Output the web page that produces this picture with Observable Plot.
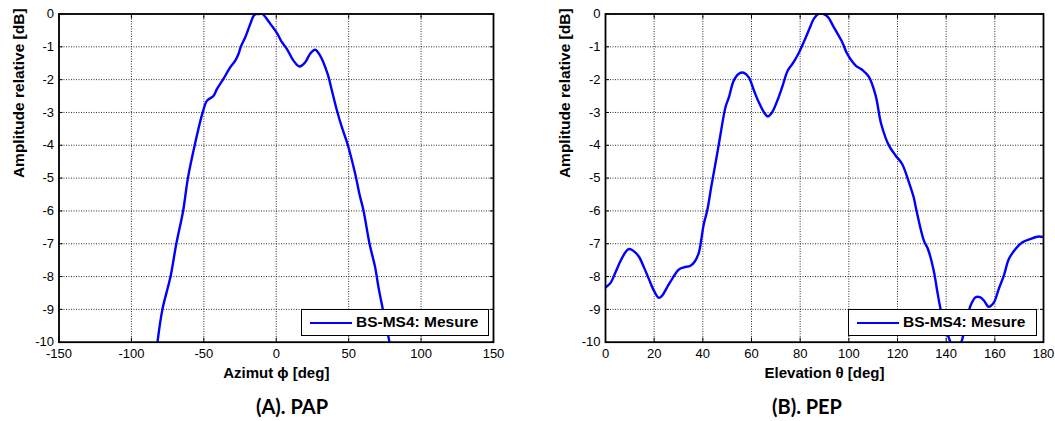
<!DOCTYPE html>
<html>
<head>
<meta charset="utf-8">
<script src="https://cdn.jsdelivr.net/npm/d3@7"></script>
<script src="https://cdn.jsdelivr.net/npm/@observablehq/plot@0.6"></script>
<style>
  body { margin: 0; background: #fff; }
  #wrap { position: relative; width: 1055px; height: 421px; background: #fff; overflow: hidden; }
  .panel { position: absolute; top: 0; }
  .legend { position: absolute; box-sizing: border-box; height: 27px; border: 1.5px solid #000; background: #fff;
            font-family: "Liberation Sans", Arial, sans-serif; font-weight: bold; font-size: 15.5px; }
  .legend .ln { position: absolute; top: 11.5px; height: 2.5px; width: 42px; background: #0000ff; }
  .legend .tx { position: absolute; top: 3px; line-height: 18px; white-space: nowrap; color: #000; }
  .caption { position: absolute; transform: translateX(-50%); font-family: Lato, "Open Sans", sans-serif; font-weight: bold;
             font-size: 20px; line-height: 24px; white-space: nowrap; color: #000; }
</style>
</head>
<body>
<div id="wrap"></div>
<script>
// ---- Data ----
const azimuthDeg = [-82, -78.6, -73, -69, -64.3, -61, -56.3, -50.8, -47.8, -43.4, -40.9, -36.8, -31.7, -28.3, -26, -24.5, -21.4, -17.9, -15.6, -14, -12, -9.6, -7, -4.1, 0.5, 3.9, 7.3, 11.9, 16, 20, 23.4, 26.9, 30.3, 35.4, 38.4, 41.9, 45.3, 49.2, 54.5, 57.5, 60.3, 64.4, 68.3, 70.6, 73.6, 78.2];
const azimuthDb = [-10, -9, -8, -7, -6, -5, -4, -3, -2.64, -2.5, -2.28, -2, -1.62, -1.42, -1.21, -1.0, -0.71, -0.3, -0.05, 0, 0, 0, -0.12, -0.3, -0.58, -0.86, -1.06, -1.42, -1.6, -1.47, -1.21, -1.09, -1.27, -1.82, -2.33, -2.94, -3.45, -3.96, -4.87, -5.5, -6.0, -7.0, -7.72, -8.33, -9.0, -10];

const elevationDeg = [0, 2, 4.1, 6.2, 8.2, 9.6, 11.4, 13.7, 15.8, 17.8, 19.9, 21.9, 23.3, 25.3, 27.4, 30.1, 32.2, 34.9, 36.7, 38.4, 39.3, 40.4, 41.8, 43.5, 45.9, 47.3, 49.3, 50.7, 52.7, 54.8, 56.8, 58.9, 61, 63, 65.1, 66.7, 68.5, 70.6, 72.6, 74.9, 77, 79, 81.8, 83.8, 85.6, 87.5, 89.7, 91.5, 93.8, 97.3, 99.3, 102.8, 105.5, 108.2, 111, 113.3, 116.5, 119.2, 121.9, 124.7, 126.7, 127.8, 130.8, 132.5, 134.9, 136.3, 137.7, 139.7, 141.5, 143.8, 146.2, 148, 150, 152.1, 153.8, 155.5, 157.5, 159.6, 161.6, 163.7, 165.8, 168.5, 171.2, 174.7, 178.1, 180];
const elevationDb = [-8.33, -8.2, -7.87, -7.52, -7.26, -7.16, -7.21, -7.39, -7.72, -8.07, -8.43, -8.65, -8.58, -8.33, -8.07, -7.79, -7.72, -7.67, -7.54, -7.26, -6.9, -6.4, -5.99, -5.25, -4.26, -3.65, -2.84, -2.54, -2.03, -1.82, -1.79, -1.93, -2.33, -2.69, -2.99, -3.12, -2.99, -2.64, -2.23, -1.72, -1.5, -1.25, -0.8, -0.45, -0.15, 0, 0, -0.1, -0.4, -0.86, -1.21, -1.57, -1.70, -1.91, -2.48, -3.35, -4.01, -4.31, -4.57, -5.13, -5.6, -5.99, -6.9, -7.16, -7.82, -8.43, -8.99, -9.55, -9.95, -10.3, -10, -9.45, -8.89, -8.63, -8.63, -8.73, -8.92, -8.79, -8.38, -7.97, -7.46, -7.16, -6.96, -6.85, -6.78, -6.8];

const azimuthTicks = [-150, -100, -50, 0, 50, 100, 150];
const elevationTicks = [0, 20, 40, 60, 80, 100, 120, 140, 160, 180];
const dbTicks = [0, -1, -2, -3, -4, -5, -6, -7, -8, -9, -10];

const seriesName = "BS-MS4: Mesure";
const yTitle = "Amplitude relative [dB]";
const panels = [
  {deg: azimuthDeg, db: azimuthDb, ticks: azimuthTicks, domain: [-150, 150], xTitle: "Azimut ϕ [deg]", caption: "(A). PAP",
   left: 0, width: 527, marginLeft: 58.5, marginRight: 34, legendLeft: 301, legendWidth: 188, captionX: 292},
  {deg: elevationDeg, db: elevationDb, ticks: elevationTicks, domain: [0, 180], xTitle: "Elevation θ [deg]", caption: "(B). PEP",
   left: 527, width: 528, marginLeft: 78, marginRight: 12, legendLeft: 848, legendWidth: 189, captionX: 807}
];

const wrap = document.getElementById("wrap");
const gridStyle = {stroke: "#222", strokeOpacity: 0.95, strokeDasharray: "1,1.5", strokeWidth: 1};
const blank = () => "";

for (const p of panels) {
  const rows = p.deg.map((d, i) => ({x: d, y: p.db[i]}));
  const chart = Plot.plot({
    width: p.width,
    height: 385,
    marginLeft: p.marginLeft,
    marginRight: p.marginRight,
    marginTop: 13.5,
    marginBottom: 43.3,
    style: {fontFamily: "'Liberation Sans', Arial, sans-serif", fontSize: "13px", color: "#000", background: "transparent", overflow: "visible"},
    x: {domain: p.domain},
    y: {domain: [-10, 0]},
    marks: [
      Plot.gridX(p.ticks, gridStyle),
      Plot.gridY(dbTicks, gridStyle),
      Plot.axisX(p.ticks, {anchor: "bottom", tickSize: 0, tickPadding: 7, tickFormat: d => String(d), label: null, fontSize: 13}),
      Plot.axisY(dbTicks, {anchor: "left", tickSize: 0, tickPadding: 5, tickFormat: d => String(d), label: null, fontSize: 13}),
      Plot.axisX(p.ticks, {anchor: "bottom", tickSize: -4, tickFormat: blank, label: null}),
      Plot.axisX(p.ticks, {anchor: "top", tickSize: -4, tickFormat: blank, label: null}),
      Plot.axisY(dbTicks, {anchor: "left", tickSize: -4, tickFormat: blank, label: null}),
      Plot.axisY(dbTicks, {anchor: "right", tickSize: -4, tickFormat: blank, label: null}),
      Plot.line(rows, {x: "x", y: "y", stroke: "#0000ff", strokeWidth: 2.4, curve: "catmull-rom", clip: true}),
      Plot.frame({stroke: "#000", strokeWidth: 1.8}),
      Plot.text([p.xTitle], {frameAnchor: "bottom", dy: 31, fontWeight: "bold", fontSize: 15, lineAnchor: "middle"}),
      Plot.text([yTitle], {frameAnchor: "left", dx: -40, rotate: -90, fontWeight: "bold", fontSize: 15.5, lineAnchor: "middle"})
    ]
  });
  chart.classList.add("panel");
  chart.style.left = p.left + "px";
  wrap.appendChild(chart);

  const lg = document.createElement("div");
  lg.className = "legend";
  lg.style.left = p.legendLeft + "px";
  lg.style.top = "309px";
  lg.style.width = p.legendWidth + "px";
  lg.innerHTML = `<div class="ln" style="left:8px"></div><div class="tx" style="left:54px"></div>`;
  lg.querySelector(".tx").textContent = seriesName;
  wrap.appendChild(lg);

  const cap = document.createElement("div");
  cap.className = "caption";
  cap.style.left = p.captionX + "px";
  cap.style.top = "394px";
  cap.textContent = p.caption;
  wrap.appendChild(cap);
}
</script>
</body>
</html>
